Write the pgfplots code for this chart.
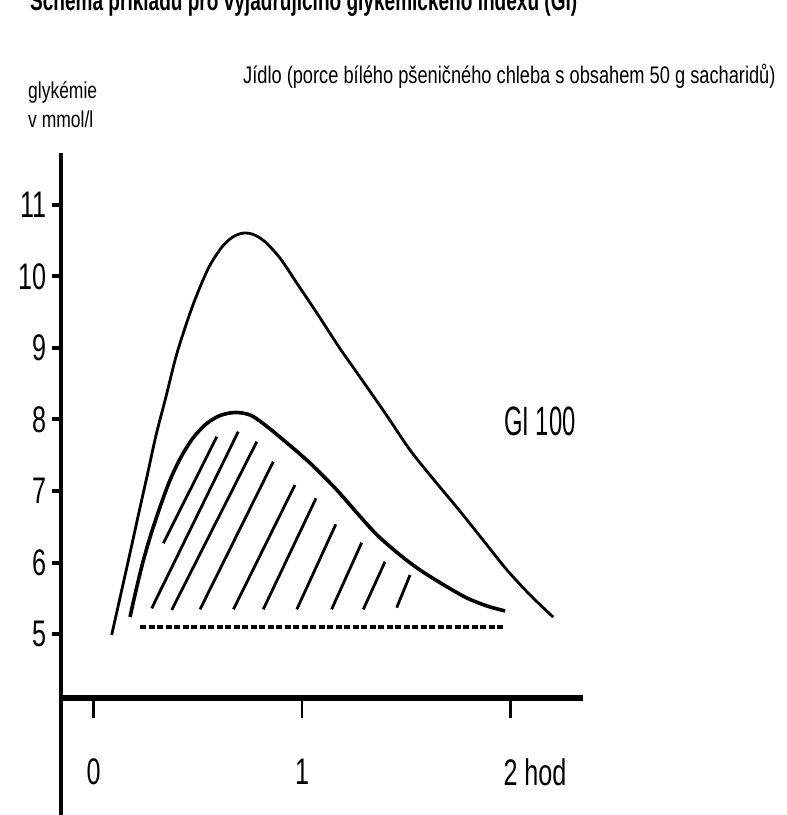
\documentclass[border=0pt]{standalone}
\usepackage{fontspec}
\setmainfont{Liberation Sans}
\newfontfamily\txtfont[FakeStretch=0.76]{Liberation Sans}
\newfontfamily\tickfont[FakeStretch=0.68]{Liberation Sans}
\newfontfamily\gifont[FakeStretch=0.58]{Liberation Sans}
\newfontfamily\titlefont[FakeStretch=0.68]{Liberation Sans}
\usepackage{pgfplots}
\pgfplotsset{compat=1.18}

\begin{document}
\begin{tikzpicture}[x=1bp,y=1bp]
\useasboundingbox (0,0) rectangle (787,815);
\clip (0,0) rectangle (787,815);

% texts above the axis (the title is cut by the page edge, as in the scan)
\node[anchor=base west, inner sep=0] at (30,804)
  {\titlefont\bfseries\fontsize{28bp}{32bp}\selectfont Schéma příkladu pro vyjadřujícího glykemického indexu (GI)};
\node[anchor=base west, inner sep=0] at (243,731)
  {\txtfont\fontsize{24bp}{28bp}\selectfont Jídlo (porce bílého pšeničného chleba s obsahem 50 g sacharidů)};
\node[anchor=base west, inner sep=0] at (28,716)
  {\txtfont\fontsize{23bp}{28bp}\selectfont glykémie};
\node[anchor=base west, inner sep=0] at (28,687)
  {\txtfont\fontsize{23bp}{28bp}\selectfont v mmol/l};

\begin{axis}[
    at={(61bp,117bp)}, anchor=south west,
    x=208.5bp, y=71.5bp,
    xmin=-0.156, xmax=2.348, ymin=4.105, ymax=11.727,
    axis lines=left,
    x axis line style={-, line width=5.5bp},
    y axis line style={-, line width=3.5bp},
    tick align=outside,
    xtick={0,1,2}, xticklabels={0,1,{2\rlap{ hod}}},
    ytick={5,6,7,8,9,10,11},
    xtick style={black, line width=2.5bp, /pgfplots/major tick length=20bp},
    ytick style={black, line width=4bp, /pgfplots/major tick length=9bp},
    tick label style={font=\tickfont\fontsize{37bp}{40bp}\selectfont},
    xticklabel style={yshift=-53bp},
    yticklabel style={xshift=-7bp},
    /pgf/number format/assume math mode=true,
    clip=false,
]
% GI 100 curve
\addplot[black, line width=2.8bp, smooth, mark=none] coordinates {
  (0.087,4.986) (0.130,5.545) (0.173,6.105) (0.215,6.664) (0.258,7.224)
  (0.300,7.783) (0.345,8.290) (0.399,8.915) (0.463,9.490) (0.511,9.853)
  (0.559,10.161) (0.616,10.413) (0.664,10.545) (0.711,10.604) (0.760,10.594)
  (0.818,10.497) (0.894,10.259) (0.981,9.881) (1.071,9.490) (1.177,9.014)
  (1.278,8.594) (1.398,8.091) (1.518,7.573) (1.633,7.154) (1.753,6.734)
  (1.868,6.315) (1.983,5.895) (2.094,5.545) (2.204,5.238)
};
% tested food curve
\addplot[black, line width=3.6bp, smooth, mark=none] coordinates {
  (0.175,5.238) (0.204,5.615) (0.237,6.007) (0.276,6.399) (0.319,6.776)
  (0.367,7.154) (0.420,7.476) (0.477,7.741) (0.540,7.937) (0.607,8.056)
  (0.679,8.098) (0.751,8.063) (0.823,7.923) (0.928,7.671) (1.038,7.392)
  (1.158,7.042) (1.264,6.692) (1.360,6.385) (1.470,6.105) (1.566,5.895)
  (1.681,5.685) (1.791,5.503) (1.887,5.392) (1.974,5.322)
};
% fasting level
\addplot[black, line width=3.5bp, dash pattern=on 6bp off 2.5bp, mark=none] coordinates {
  (0.223,5.098) (1.974,5.098)
};
% hatching under the lower curve
\addplot[black, line width=2.8bp, mark=none, unbounded coords=jump] coordinates {
  (0.335,6.269) (0.591,7.759) (nan,nan)
  (0.279,5.359) (0.694,7.829) (nan,nan)
  (0.375,5.336) (0.783,7.690) (nan,nan)
  (0.511,5.345) (0.862,7.410) (nan,nan)
  (0.671,5.345) (0.966,7.084) (nan,nan)
  (0.814,5.345) (1.067,6.898) (nan,nan)
  (0.975,5.345) (1.162,6.534) (nan,nan)
  (1.142,5.345) (1.286,6.277) (nan,nan)
  (1.294,5.345) (1.398,6.011) (nan,nan)
  (1.454,5.368) (1.518,5.825)
};
\node at (axis cs:2.141,7.972) {\gifont\fontsize{41bp}{44bp}\selectfont GI 100};
% y axis runs on below the time axis
\draw[line width=3.5bp] (axis cs:-0.156,4.105) -- (axis cs:-0.156,2.3);
\end{axis}
\end{tikzpicture}
\end{document}
